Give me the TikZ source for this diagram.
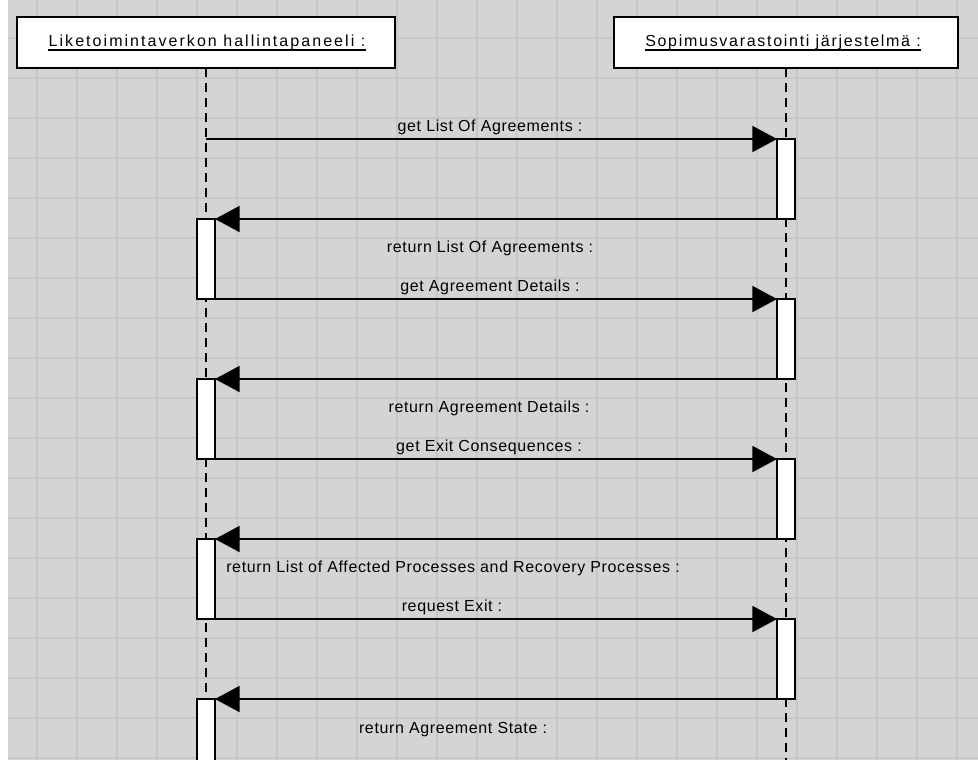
\documentclass[tikz,border=0pt]{standalone}
\usepackage{fontspec}
\setmainfont{Liberation Sans}
\newfontfamily\lblfamily{Liberation Sans}[LetterSpace=4]
\newfontfamily\ttlfamily{Liberation Sans}[LetterSpace=10.7]
\newfontfamily\ttlwidefamily{Liberation Sans}[LetterSpace=12.8]
\usetikzlibrary{arrows.meta,fit}
\definecolor{bggrey}{HTML}{D4D4D4}
\definecolor{gridgrey}{HTML}{C6C6C6}
\tikzset{
  gridline/.style={draw=gridgrey, line width=1.5pt},
  objbox/.style={draw=black, line width=1.5pt, fill=white, inner sep=0pt, outer sep=0pt},
  actbox/.style={draw=black, line width=1.5pt, fill=white, inner sep=0pt, outer sep=0pt},
  life/.style={line width=1.5pt, dash pattern=on 6.75pt off 4.5pt},
  msg/.style={line width=1.5pt, -{Triangle[length=18.5pt,width=19.5pt]}},
  lbl/.style={inner sep=0pt, anchor=base, font=\lblfamily\fontsize{12pt}{14pt}\selectfont},
  ttl/.style={inner sep=0pt, anchor=base, font=\ttlfamily\fontsize{12pt}{14pt}\selectfont},
  uline/.style={line width=1.1pt},
}
\begin{document}
\begin{tikzpicture}[x=0.75pt,y=-0.75pt]
\useasboundingbox (0,0) rectangle (978,760);
\fill[white] (0,0) rectangle (978,760);
\fill[bggrey] (8,0) rectangle (978,760);
\foreach \gx in {37,77,...,957} \draw[gridline] (\gx,0) -- (\gx,760);
\foreach \gy in {38,78,...,758} \draw[gridline] (8,\gy) -- (978,\gy);

% object boxes
\node[objbox, fit={(17,17) (395,68)}] (LB) {};
\node[objbox, fit={(614,17) (958,68)}] (RB) {};
\node[ttl, font=\ttlwidefamily\fontsize{12pt}{14pt}\selectfont] (T1) at (207,46) {Liketoimintaverkon hallintapaneeli :};
\node[ttl] (T2) at (783,46) {Sopimusvarastointi järjestelmä :};
\draw[uline] ([yshift=-3pt]T1.base west) -- ([yshift=-3pt]T1.base east);
\draw[uline] ([yshift=-3pt]T2.base west) -- ([yshift=-3pt]T2.base east);

% lifelines
\coordinate (LE) at (206,761);
\coordinate (RE) at (786,761);
\draw[life] (LB.south) -- (LE);
\draw[life] (RB.south) -- (RE);

% activations
\node[actbox, fit={(777,139) (795,219)}] (R1) {};
\node[actbox, fit={(197,219) (215,299)}] (A1) {};
\node[actbox, fit={(777,299) (795,379)}] (R2) {};
\node[actbox, fit={(197,379) (215,459)}] (A2) {};
\node[actbox, fit={(777,459) (795,539)}] (R3) {};
\node[actbox, fit={(197,539) (215,619)}] (A3) {};
\node[actbox, fit={(777,619) (795,699)}] (R4) {};
\node[actbox, fit={(197,699) (215,762)}] (A4) {};

% messages
\draw[msg] (LB.south |- R1.north west) -- (R1.north west);
\draw[msg] (R1.south west) -- (A1.north east);
\draw[msg] (A1.south east) -- (R2.north west);
\draw[msg] (R2.south west) -- (A2.north east);
\draw[msg] (A2.south east) -- (R3.north west);
\draw[msg] (R3.south west) -- (A3.north east);
\draw[msg] (A3.south east) -- (R4.north west);
\draw[msg] (R4.south west) -- (A4.north east);

% labels
\node[lbl] (L1) at (490,131) {get List Of Agreements :};
\node[lbl] (L2) at (490,252) {return List Of Agreements :};
\node[lbl] (L3) at (490,291) {get Agreement Details :};
\node[lbl] (L4) at (489,412) {return Agreement Details :};
\node[lbl] (L5) at (489,451) {get Exit Consequences :};
\node[lbl] (L6) at (453,572) {return List of Affected Processes and Recovery Processes :};
\node[lbl] (L7) at (452,611) {request Exit :};
\node[lbl] (L8) at (453,733) {return Agreement State :};
\end{tikzpicture}
\end{document}
